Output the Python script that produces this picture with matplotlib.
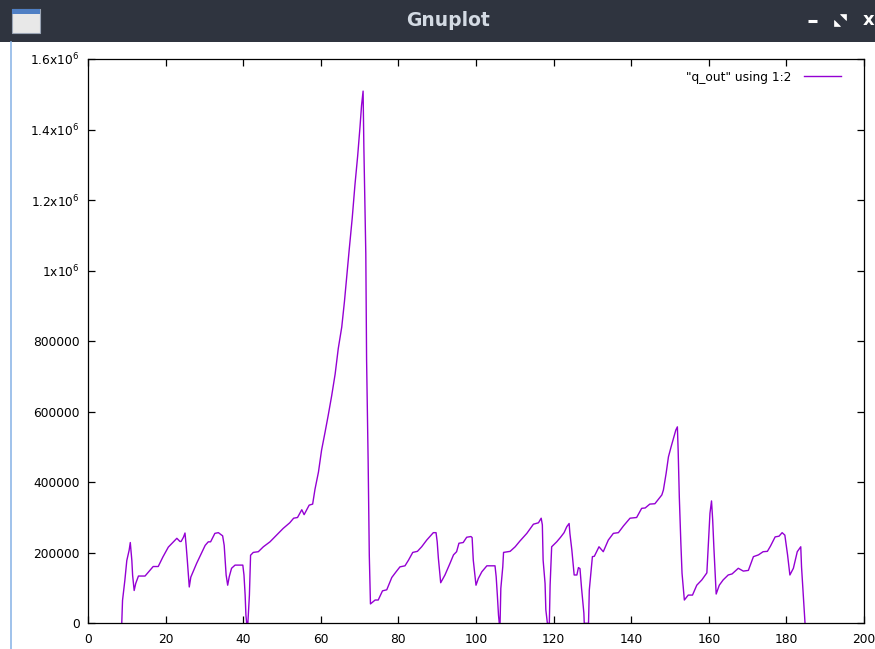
import matplotlib
matplotlib.use("Agg")
import matplotlib.pyplot as plt
from matplotlib.patches import Rectangle, Polygon
from matplotlib.lines import Line2D

# ---- data ----
x_vals = [8.7, 8.9, 9.5, 10.0, 10.6, 10.9, 11.3, 11.5, 11.9, 12.3, 13.0, 14.7, 16.8, 18.1, 19.3,
          20.7, 22.9, 23.7, 24.0, 24.6, 25.0, 25.3, 25.6, 26.1, 26.5, 28.0, 30.2, 31.0, 31.6,
          32.7, 33.6, 34.7, 35.1, 35.6, 36.0, 36.4, 37.0, 37.9, 39.9, 40.2, 40.5, 40.7, 40.9,
          41.2, 41.6, 41.9, 42.6, 43.9, 45.2, 46.9, 48.6, 50.3, 52.0, 53.0, 54.0, 55.1, 55.7,
          57.0, 57.9, 58.5, 59.4, 60.2, 61.1, 61.9, 62.8, 63.7, 64.5, 65.4, 66.1, 66.7, 67.3,
          68.1, 68.8, 69.5, 70.1, 70.5, 70.9, 71.1, 71.6, 71.8, 72.2, 72.5, 72.8, 74.0, 74.8,
          75.9, 77.0, 78.3, 79.4, 80.4, 81.7, 82.6, 83.7, 84.9, 86.0, 87.3, 89.0, 89.7, 90.0,
          90.3, 90.9, 92.0, 93.3, 94.2, 95.0, 95.6, 96.7, 97.6, 98.7, 99.0, 99.3, 99.7, 100.0,
          100.6, 101.5, 102.8, 104.9, 105.2, 105.5, 105.8, 106.0, 106.2, 106.4, 106.9, 107.1,
          108.8, 110.1, 111.3, 113.1, 114.8, 116.1, 116.8, 117.1, 117.3, 117.8, 118.0, 118.4,
          118.9, 119.1, 119.5, 120.8, 121.8, 122.7, 123.4, 124.0, 124.2, 124.7, 125.1, 125.3,
          126.0, 126.4, 126.8, 127.2, 127.8, 127.9, 129.0, 129.2, 130.0, 130.5, 131.7, 132.8,
          134.1, 135.4, 136.7, 138.0, 139.7, 141.4, 142.7, 143.6, 144.8, 146.1, 147.9, 148.3,
          149.0, 149.6, 150.3, 150.9, 151.5, 151.9, 152.1, 152.4, 152.8, 153.1, 153.7, 154.7,
          155.8, 156.9, 158.2, 159.5, 159.9, 160.3, 160.7, 161.0, 161.3, 161.9, 162.7, 163.7,
          165.0, 166.0, 167.6, 168.9, 170.2, 171.5, 172.8, 174.0, 175.1, 175.9, 177.1, 178.1,
          178.9, 179.6, 180.3, 180.9, 181.8, 182.8, 183.7, 183.9, 184.2, 184.5, 184.8]
q_out = [0, 65000, 122000, 178000, 207000, 229000, 178000, 136000, 93000, 113000, 134000, 134000,
         161000, 161000, 188000, 216000, 241000, 232000, 232000, 244000, 256000, 220000, 178000,
         103000, 131000, 170000, 221000, 231000, 231000, 255000, 257000, 248000, 221000, 137000,
         108000, 132000, 156000, 165000, 165000, 137000, 80000, 23000, 0, 0, 80000, 193000,
         201000, 203000, 217000, 231000, 250000, 269000, 285000, 298000, 300000, 322000, 308000,
         335000, 338000, 380000, 429000, 491000, 542000, 589000, 645000, 707000, 779000, 840000,
         913000, 985000, 1057000, 1149000, 1243000, 1325000, 1407000, 1468000, 1509000, 1350000,
         1047000, 748000, 460000, 192000, 55000, 66000, 66000, 92000, 95000, 130000, 146000,
         160000, 163000, 179000, 201000, 204000, 217000, 236000, 257000, 257000, 231000, 185000,
         115000, 137000, 170000, 194000, 203000, 227000, 229000, 244000, 246000, 243000, 179000,
         137000, 108000, 127000, 146000, 163000, 163000, 132000, 80000, 23000, 0, 0, 99000,
         160000, 201000, 204000, 217000, 233000, 255000, 281000, 285000, 298000, 279000, 179000,
         113000, 38000, 0, 0, 108000, 217000, 231000, 244000, 257000, 274000, 283000, 255000,
         208000, 160000, 137000, 137000, 158000, 155000, 100000, 29000, 0, 0, 94000, 189000,
         190000, 217000, 203000, 236000, 255000, 257000, 276000, 298000, 300000, 326000, 327000,
         338000, 339000, 364000, 378000, 425000, 472000, 501000, 524000, 548000, 557000, 491000,
         358000, 227000, 142000, 66000, 80000, 80000, 108000, 123000, 143000, 227000, 312000,
         347000, 293000, 217000, 83000, 108000, 123000, 137000, 140000, 156000, 148000, 150000,
         189000, 194000, 203000, 204000, 219000, 245000, 247000, 257000, 250000, 194000, 137000,
         156000, 203000, 217000, 160000, 108000, 52000, 0]
series_label = '"q_out" using 1:2'
x_ticks = [0, 20, 40, 60, 80, 100, 120, 140, 160, 180, 200]
y_ticks = [0, 200000, 400000, 600000, 800000, 1000000, 1200000, 1400000, 1600000]
y_tick_labels = ["0", "200000", "400000", "600000", "800000",
                 r"1x10$^{6}$", r"1.2x10$^{6}$", r"1.4x10$^{6}$", r"1.6x10$^{6}$"]
window_title = "Gnuplot"

W, H = 875, 649
fig = plt.figure(figsize=(W / 100, H / 100), dpi=100)
fig.patch.set_facecolor("white")


def fx(px):
    return px / W


def fy(py):
    return 1 - py / H


# window title bar
bar_h = 42
fig.patches.append(Rectangle((0, fy(bar_h)), 1, bar_h / H, transform=fig.transFigure,
                             facecolor="#2f343f", edgecolor="none", zorder=0))
fig.text(fx(448), fy(20), window_title, ha="center", va="center", color="#d3dae3",
         fontsize=13.5, fontweight="bold", family="DejaVu Sans")
# window icon
fig.patches.append(Rectangle((fx(12), fy(33)), 28 / W, 24 / H, transform=fig.transFigure,
                             facecolor="#e8e8e8", edgecolor="#9aa4b4", lw=0.8, zorder=1))
fig.patches.append(Rectangle((fx(12), fy(14)), 28 / W, 5 / H, transform=fig.transFigure,
                             facecolor="#4f7fc4", edgecolor="none", zorder=2))
# minimise button
fig.lines.append(Line2D([fx(808), fx(817)], [fy(21), fy(21)], transform=fig.transFigure,
                        color="white", lw=2.2, solid_capstyle="butt"))
# maximise (resize arrows) button, drawn as a shape
fig.patches.append(Polygon([(fx(840), fy(14)), (fx(846), fy(14)), (fx(846), fy(20))],
                           closed=True, transform=fig.transFigure, facecolor="white",
                           edgecolor="white", lw=0.5))
fig.patches.append(Polygon([(fx(834), fy(20)), (fx(834), fy(26)), (fx(840), fy(26))],
                           closed=True, transform=fig.transFigure, facecolor="white",
                           edgecolor="white", lw=0.5))
fig.text(fx(869), fy(20), "x", ha="center", va="center", color="white",
         fontsize=13, fontweight="bold")
# left window border
fig.lines.append(Line2D([fx(10.5), fx(10.5)], [0, fy(bar_h)], transform=fig.transFigure,
                        color="#8fb8e8", lw=1.2))

# plot area
left, right, top, bottom = 88, 864, 59, 623.3
ax = fig.add_axes([left / W, (H - bottom) / H, (right - left) / W, (bottom - top) / H])
ax.plot(x_vals, q_out, color="#9400d3", lw=1.0, label=series_label, zorder=2)
ax.set_xlim(0, 200)
ax.set_ylim(0, 1600000)
ax.set_xticks(x_ticks)
ax.set_xticklabels([str(t) for t in x_ticks])
ax.set_yticks(y_ticks)
ax.set_yticklabels(y_tick_labels)
for s in ax.spines.values():
    s.set_linewidth(0.9)
    s.set_color("black")
    s.set_zorder(3)
ax.tick_params(direction="in", length=5, width=0.9, top=True, right=True,
               labelsize=8.8, colors="black")
ax.tick_params(axis="x", pad=7)
ax.tick_params(axis="y", pad=6)

ax.legend(loc="upper right", bbox_to_anchor=((850 - left) / (right - left), 1.0 - 3 / (bottom - top)),
          frameon=False, markerfirst=False, handlelength=3.1, handletextpad=1.0,
          fontsize=8.8, borderaxespad=0.3)

fig.savefig("out.png", dpi=100)
